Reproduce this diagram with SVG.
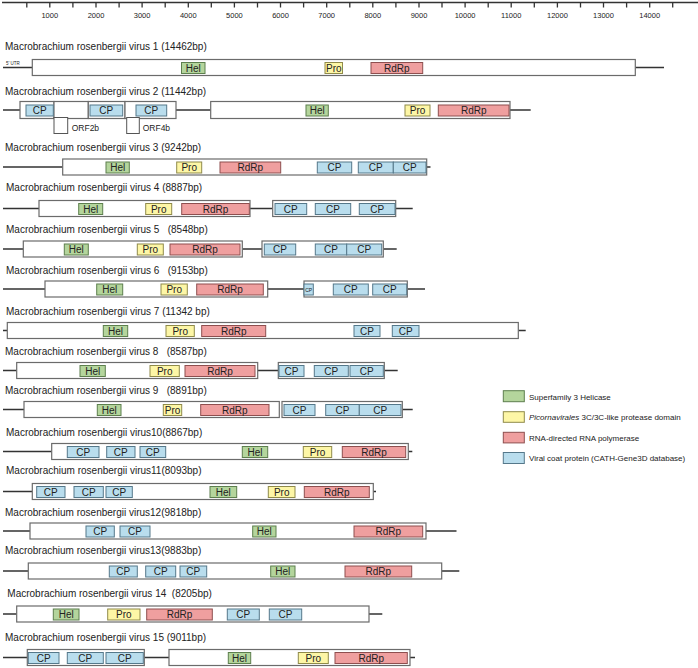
<svg xmlns="http://www.w3.org/2000/svg" width="698" height="668" viewBox="0 0 698 668">
<style>
text{font-family:"Liberation Sans",Arial,sans-serif;fill:#222}
.t{font-size:10px}
.r{font-size:7.5px;text-anchor:middle}
.d{font-size:10px;text-anchor:middle}
.lg{font-size:8px}
.g{fill:#fff;stroke:#6b6b6b;stroke-width:1.2}
.hel{fill:#b4d59c;stroke:#5d7f4e;stroke-width:1}
.pro{fill:#fdf6a6;stroke:#8f8a4a;stroke-width:1}
.rdrp{fill:#ef9f9f;stroke:#8e4f4f;stroke-width:1}
.cp{fill:#b9dded;stroke:#55788a;stroke-width:1}
.ln{stroke:#333;stroke-width:1.3;fill:none}
.orf{fill:#fff;stroke:#555;stroke-width:1}
</style>
<g id="ruler">
<line class="ln" x1="2" y1="2.5" x2="698" y2="2.5"/>
<path class="ln" d="M26.8 2.5v5M49.8 2.5v5M72.9 2.5v5M96 2.5v5M119.1 2.5v5M142.1 2.5v5M165.2 2.5v5M188.3 2.5v5M211.3 2.5v5M234.4 2.5v5M257.5 2.5v5M280.5 2.5v5M303.6 2.5v5M326.7 2.5v5M349.8 2.5v5M372.8 2.5v5M395.9 2.5v5M419 2.5v5M442 2.5v5M465.1 2.5v5M488.2 2.5v5M511.2 2.5v5M534.3 2.5v5M557.4 2.5v5M580.5 2.5v5M603.5 2.5v5M626.6 2.5v5M649.7 2.5v5M672.7 2.5v5"/>
<text class="r" x="49.8" y="17.5">1000</text>
<text class="r" x="96" y="17.5">2000</text>
<text class="r" x="142.1" y="17.5">3000</text>
<text class="r" x="188.3" y="17.5">4000</text>
<text class="r" x="234.4" y="17.5">5000</text>
<text class="r" x="280.5" y="17.5">6000</text>
<text class="r" x="326.7" y="17.5">7000</text>
<text class="r" x="372.8" y="17.5">8000</text>
<text class="r" x="419" y="17.5">9000</text>
<text class="r" x="465.1" y="17.5">10000</text>
<text class="r" x="511.2" y="17.5">11000</text>
<text class="r" x="557.4" y="17.5">12000</text>
<text class="r" x="603.5" y="17.5">13000</text>
<text class="r" x="649.7" y="17.5">14000</text>
</g>
<g id="connectors">
<path class="ln" d="M3 67.5H32.3M635.3 67.5H664"/>
<path class="ln" d="M3 110H20M176 110H210.7M510 110H530.7"/>
<path class="ln" d="M3 167H62.7M426.7 167H430.5"/>
<path class="ln" d="M3 208.5H39M250 208.5H272.7M395.7 208.5H412.7"/>
<path class="ln" d="M3 249H23.3M242.3 249H262M383.3 249H396.7"/>
<path class="ln" d="M3 289H45M267.7 289H304M407.3 289H425"/>
<path class="ln" d="M3 330.5H7.3M518.3 330.5H525.7"/>
<path class="ln" d="M3 370.5H16.7M257.7 370.5H278.3M384.3 370.5H397.7"/>
<path class="ln" d="M3 409.5H24M402.3 409.5H412.7"/>
<path class="ln" d="M3 451.5H51.7M408.3 451.5H412.3"/>
<path class="ln" d="M3 491.5H32.3M373.3 491.5H376"/>
<path class="ln" d="M3 531H30M426 531H456.5"/>
<path class="ln" d="M3 571H28.3M441.7 571H459.3"/>
<path class="ln" d="M3 614H16.7M369 614H382.3"/>
<path class="ln" d="M3 657.5H27.3M144.3 657.5H169M410 657.5H415"/>
</g>
<g id="virus1">
<text class="t" x="5" y="50.2">Macrobrachium rosenbergii virus 1 (14462bp)</text>
<rect class="g" x="32.3" y="59.5" width="603" height="16"/>
<text x="6" y="64.5" style="font-size:4.5px">5' UTR</text>
<rect class="hel" x="181.5" y="62.5" width="23.5" height="11"/><text class="d" x="193.3" y="71.5">Hel</text>
<rect class="pro" x="325" y="62.5" width="17.5" height="11"/><text class="d" x="333.8" y="71.5">Pro</text>
<rect class="rdrp" x="371" y="62.5" width="51.7" height="11"/><text class="d" x="396.8" y="71.5">RdRp</text>
</g>
<g id="virus2">
<text class="t" x="5" y="94.5">Macrobrachium rosenbergii virus 2 (11442bp)</text>
<rect class="g" x="20" y="101.5" width="34" height="17"/>
<rect class="g" x="54" y="101.5" width="34.3" height="17"/>
<rect class="g" x="88.3" y="101.5" width="36.7" height="17"/>
<rect class="g" x="125" y="101.5" width="51" height="17"/>
<rect class="g" x="210.7" y="101.5" width="299.3" height="17"/>
<rect class="orf" x="54" y="117.5" width="13.7" height="16"/>
<rect class="orf" x="126.7" y="117.5" width="12.6" height="16"/>
<text x="71.7" y="131" style="font-size:8.5px">ORF2b</text>
<text x="142.7" y="131" style="font-size:8.5px">ORF4b</text>
<rect class="cp" x="26" y="105" width="27.3" height="11"/><text class="d" x="39.7" y="114">CP</text>
<rect class="cp" x="90" y="105" width="32.7" height="11"/><text class="d" x="106.3" y="114">CP</text>
<rect class="cp" x="136" y="105" width="30.7" height="11"/><text class="d" x="151.3" y="114">CP</text>
<rect class="hel" x="306" y="105" width="22.3" height="11"/><text class="d" x="317.2" y="114">Hel</text>
<rect class="pro" x="405" y="105" width="25" height="11"/><text class="d" x="417.5" y="114">Pro</text>
<rect class="rdrp" x="438.3" y="105" width="70.7" height="11"/><text class="d" x="473.7" y="114">RdRp</text>
</g>
<g id="virus3">
<text class="t" x="5" y="150.8">Macrobrachium rosenbergii virus 3 (9242bp)</text>
<rect class="g" x="62.7" y="159" width="364" height="16"/>
<rect class="hel" x="106" y="162" width="23.3" height="11"/><text class="d" x="117.7" y="171">Hel</text>
<rect class="pro" x="176.7" y="162" width="25" height="11"/><text class="d" x="189.2" y="171">Pro</text>
<rect class="rdrp" x="220" y="162" width="60.7" height="11"/><text class="d" x="250.3" y="171">RdRp</text>
<rect class="cp" x="317.3" y="162" width="34.4" height="11"/><text class="d" x="334.5" y="171">CP</text>
<rect class="cp" x="358.3" y="162" width="35" height="11"/><text class="d" x="375.8" y="171">CP</text>
<rect class="cp" x="393.3" y="162" width="32.7" height="11"/><text class="d" x="409.7" y="171">CP</text>
</g>
<g id="virus4">
<text class="t" x="6" y="190.8">Macrobrachium rosenbergii virus 4 (8887bp)</text>
<rect class="g" x="39" y="200.5" width="211" height="16"/>
<rect class="g" x="272.7" y="200.5" width="123" height="16"/>
<rect class="hel" x="78.7" y="203.5" width="24" height="11"/><text class="d" x="90.7" y="212.5">Hel</text>
<rect class="pro" x="145.7" y="203.5" width="26" height="11"/><text class="d" x="158.7" y="212.5">Pro</text>
<rect class="rdrp" x="181.7" y="203.5" width="67.6" height="11"/><text class="d" x="215.5" y="212.5">RdRp</text>
<rect class="cp" x="275" y="203.5" width="31.7" height="11"/><text class="d" x="290.8" y="212.5">CP</text>
<rect class="cp" x="315.3" y="203.5" width="35.4" height="11"/><text class="d" x="333" y="212.5">CP</text>
<rect class="cp" x="359.3" y="203.5" width="35.7" height="11"/><text class="d" x="377.2" y="212.5">CP</text>
</g>
<g id="virus5">
<text class="t" x="6" y="232.5" xml:space="preserve">Macrobrachium rosenbergii virus 5   (8548bp)</text>
<rect class="g" x="23.3" y="241" width="219" height="16"/>
<rect class="g" x="262" y="241" width="121.3" height="16"/>
<rect class="hel" x="64.3" y="244" width="24" height="11"/><text class="d" x="76.3" y="253">Hel</text>
<rect class="pro" x="137.3" y="244" width="26" height="11"/><text class="d" x="150.3" y="253">Pro</text>
<rect class="rdrp" x="170" y="244" width="70" height="11"/><text class="d" x="205" y="253">RdRp</text>
<rect class="cp" x="264.3" y="244" width="31.4" height="11"/><text class="d" x="280" y="253">CP</text>
<rect class="cp" x="315.3" y="244" width="31.4" height="11"/><text class="d" x="331" y="253">CP</text>
<rect class="cp" x="346.7" y="244" width="35" height="11"/><text class="d" x="364.2" y="253">CP</text>
</g>
<g id="virus6">
<text class="t" x="6" y="273.5" xml:space="preserve">Macrobrachium rosenbergii virus 6   (9153bp)</text>
<rect class="g" x="45" y="281" width="222.7" height="16"/>
<rect class="g" x="304" y="281" width="103.3" height="16"/>
<rect class="hel" x="96.7" y="284" width="26" height="11"/><text class="d" x="109.7" y="293">Hel</text>
<rect class="pro" x="161" y="284" width="26.3" height="11"/><text class="d" x="174.2" y="293">Pro</text>
<rect class="rdrp" x="196.7" y="284" width="66.6" height="11"/><text class="d" x="230" y="293">RdRp</text>
<rect class="cp" x="304" y="284" width="9.3" height="11"/><text class="d" x="308.7" y="291.5" style="font-size:5px">CP</text>
<rect class="cp" x="333.3" y="284" width="35" height="11"/><text class="d" x="350.8" y="293">CP</text>
<rect class="cp" x="372.7" y="284" width="34" height="11"/><text class="d" x="389.7" y="293">CP</text>
</g>
<g id="virus7">
<text class="t" x="6" y="314.5">Macrobrachium rosenbergii virus 7 (11342 bp)</text>
<rect class="g" x="7.3" y="322.5" width="511" height="16"/>
<rect class="hel" x="103.3" y="325.5" width="24.4" height="11"/><text class="d" x="115.5" y="334.5">Hel</text>
<rect class="pro" x="166" y="325.5" width="28.3" height="11"/><text class="d" x="180.2" y="334.5">Pro</text>
<rect class="rdrp" x="201.7" y="325.5" width="64" height="11"/><text class="d" x="233.7" y="334.5">RdRp</text>
<rect class="cp" x="354" y="325.5" width="26" height="11"/><text class="d" x="367" y="334.5">CP</text>
<rect class="cp" x="392.3" y="325.5" width="26.7" height="11"/><text class="d" x="405.7" y="334.5">CP</text>
</g>
<g id="virus8">
<text class="t" x="5" y="355.2" xml:space="preserve">Macrobrachium rosenbergii virus 8   (8587bp)</text>
<rect class="g" x="16.7" y="362.5" width="241" height="16"/>
<rect class="g" x="278.3" y="362.5" width="106" height="16"/>
<rect class="hel" x="80" y="365.5" width="25.3" height="11"/><text class="d" x="92.7" y="374.5">Hel</text>
<rect class="pro" x="150" y="365.5" width="29.3" height="11"/><text class="d" x="164.7" y="374.5">Pro</text>
<rect class="rdrp" x="185" y="365.5" width="70" height="11"/><text class="d" x="220" y="374.5">RdRp</text>
<rect class="cp" x="279" y="365.5" width="25" height="11"/><text class="d" x="291.5" y="374.5">CP</text>
<rect class="cp" x="314.3" y="365.5" width="34" height="11"/><text class="d" x="331.3" y="374.5">CP</text>
<rect class="cp" x="350" y="365.5" width="33.3" height="11"/><text class="d" x="366.7" y="374.5">CP</text>
</g>
<g id="virus9">
<text class="t" x="5" y="394.2" xml:space="preserve">Macrobrachium rosenbergii virus 9   (8891bp)</text>
<rect class="g" x="24" y="401.5" width="255.3" height="16"/>
<rect class="g" x="282" y="401.5" width="120.3" height="16"/>
<rect class="hel" x="97.3" y="404.5" width="23.7" height="11"/><text class="d" x="109.2" y="413.5">Hel</text>
<rect class="pro" x="163.3" y="404.5" width="18.4" height="11"/><text class="d" x="172.5" y="413.5">Pro</text>
<rect class="rdrp" x="200.7" y="404.5" width="68.3" height="11"/><text class="d" x="234.8" y="413.5">RdRp</text>
<rect class="cp" x="284" y="404.5" width="31" height="11"/><text class="d" x="299.5" y="413.5">CP</text>
<rect class="cp" x="325.7" y="404.5" width="33.6" height="11"/><text class="d" x="342.5" y="413.5">CP</text>
<rect class="cp" x="359.3" y="404.5" width="41.7" height="11"/><text class="d" x="380.2" y="413.5">CP</text>
</g>
<g id="virus10">
<text class="t" x="6" y="435.5">Macrobrachium rosenbergii virus10(8867bp)</text>
<rect class="g" x="51.7" y="443.5" width="356.6" height="16"/>
<rect class="cp" x="67.3" y="446.5" width="31.7" height="11"/><text class="d" x="83.2" y="455.5">CP</text>
<rect class="cp" x="106.7" y="446.5" width="28.3" height="11"/><text class="d" x="120.8" y="455.5">CP</text>
<rect class="cp" x="140" y="446.5" width="25.7" height="11"/><text class="d" x="152.8" y="455.5">CP</text>
<rect class="hel" x="242.3" y="446.5" width="25.4" height="11"/><text class="d" x="255" y="455.5">Hel</text>
<rect class="pro" x="303.3" y="446.5" width="28.4" height="11"/><text class="d" x="317.5" y="455.5">Pro</text>
<rect class="rdrp" x="342.3" y="446.5" width="63.4" height="11"/><text class="d" x="374" y="455.5">RdRp</text>
</g>
<g id="virus11">
<text class="t" x="6" y="474">Macrobrachium rosenbergii virus11(8093bp)</text>
<rect class="g" x="32.3" y="483.5" width="341" height="16"/>
<rect class="cp" x="36.7" y="486.5" width="28.3" height="11"/><text class="d" x="50.8" y="495.5">CP</text>
<rect class="cp" x="74" y="486.5" width="29.3" height="11"/><text class="d" x="88.7" y="495.5">CP</text>
<rect class="cp" x="106" y="486.5" width="26.3" height="11"/><text class="d" x="119.2" y="495.5">CP</text>
<rect class="hel" x="210" y="486.5" width="26.7" height="11"/><text class="d" x="223.3" y="495.5">Hel</text>
<rect class="pro" x="268.3" y="486.5" width="26.7" height="11"/><text class="d" x="281.7" y="495.5">Pro</text>
<rect class="rdrp" x="304.3" y="486.5" width="65" height="11"/><text class="d" x="336.8" y="495.5">RdRp</text>
</g>
<g id="virus12">
<text class="t" x="5" y="515.8">Macrobrachium rosenbergii virus12(9818bp)</text>
<rect class="g" x="30" y="523" width="396" height="16"/>
<rect class="cp" x="86" y="526" width="28.3" height="11"/><text class="d" x="100.2" y="535">CP</text>
<rect class="cp" x="120" y="526" width="30" height="11"/><text class="d" x="135" y="535">CP</text>
<rect class="hel" x="252.7" y="526" width="23.3" height="11"/><text class="d" x="264.3" y="535">Hel</text>
<rect class="rdrp" x="354" y="526" width="68.7" height="11"/><text class="d" x="388.3" y="535">RdRp</text>
</g>
<g id="virus13">
<text class="t" x="5" y="554.2">Macrobrachium rosenbergii virus13(9883bp)</text>
<rect class="g" x="28.3" y="563" width="413.4" height="16"/>
<rect class="cp" x="109.3" y="566" width="28" height="11"/><text class="d" x="123.3" y="575">CP</text>
<rect class="cp" x="145.7" y="566" width="30" height="11"/><text class="d" x="160.7" y="575">CP</text>
<rect class="cp" x="180" y="566" width="26.7" height="11"/><text class="d" x="193.3" y="575">CP</text>
<rect class="hel" x="270.7" y="566" width="24.3" height="11"/><text class="d" x="282.8" y="575">Hel</text>
<rect class="rdrp" x="345" y="566" width="66.7" height="11"/><text class="d" x="378.3" y="575">RdRp</text>
</g>
<g id="virus14">
<text class="t" x="7.3" y="596.8" xml:space="preserve">Macrobrachium rosenbergii virus 14  (8205bp)</text>
<rect class="g" x="16.7" y="606" width="352.3" height="16"/>
<rect class="hel" x="53.3" y="609" width="25.7" height="11"/><text class="d" x="66.2" y="618">Hel</text>
<rect class="pro" x="107.7" y="609" width="32.3" height="11"/><text class="d" x="123.8" y="618">Pro</text>
<rect class="rdrp" x="146.7" y="609" width="65.6" height="11"/><text class="d" x="179.5" y="618">RdRp</text>
<rect class="cp" x="227.3" y="609" width="32" height="11"/><text class="d" x="243.3" y="618">CP</text>
<rect class="cp" x="269.3" y="609" width="32.4" height="11"/><text class="d" x="285.5" y="618">CP</text>
</g>
<g id="virus15">
<text class="t" x="5" y="640.8">Macrobrachium rosenbergii virus 15 (9011bp)</text>
<rect class="g" x="27.3" y="649.5" width="117" height="16"/>
<rect class="g" x="169" y="649.5" width="241" height="16"/>
<rect class="cp" x="28.3" y="652.5" width="30.7" height="11"/><text class="d" x="43.7" y="661.5">CP</text>
<rect class="cp" x="67.3" y="652.5" width="36" height="11"/><text class="d" x="85.3" y="661.5">CP</text>
<rect class="cp" x="106" y="652.5" width="37.3" height="11"/><text class="d" x="124.7" y="661.5">CP</text>
<rect class="hel" x="228.3" y="652.5" width="22.4" height="11"/><text class="d" x="239.5" y="661.5">Hel</text>
<rect class="pro" x="298.3" y="652.5" width="30" height="11"/><text class="d" x="313.3" y="661.5">Pro</text>
<rect class="rdrp" x="335" y="652.5" width="72.3" height="11"/><text class="d" x="371.2" y="661.5">RdRp</text>
</g>
<g id="legend">
<rect class="hel" x="503.3" y="390.7" width="21" height="11"/>
<text class="lg" x="529" y="399.5">Superfamily 3 Helicase</text>
<rect class="pro" x="503.3" y="411.7" width="21" height="10.6"/>
<text class="lg" x="529" y="420"><tspan font-style="italic">Picornavirales</tspan> 3C/3C-like protease domain</text>
<rect class="rdrp" x="503.3" y="432.3" width="21" height="10.6"/>
<text class="lg" x="529" y="440.5">RNA-directed RNA polymerase</text>
<rect class="cp" x="503.3" y="452.5" width="21" height="11"/>
<text class="lg" x="529" y="461">Viral coat protein (CATH-Gene3D database)</text>
</g>
</svg>
